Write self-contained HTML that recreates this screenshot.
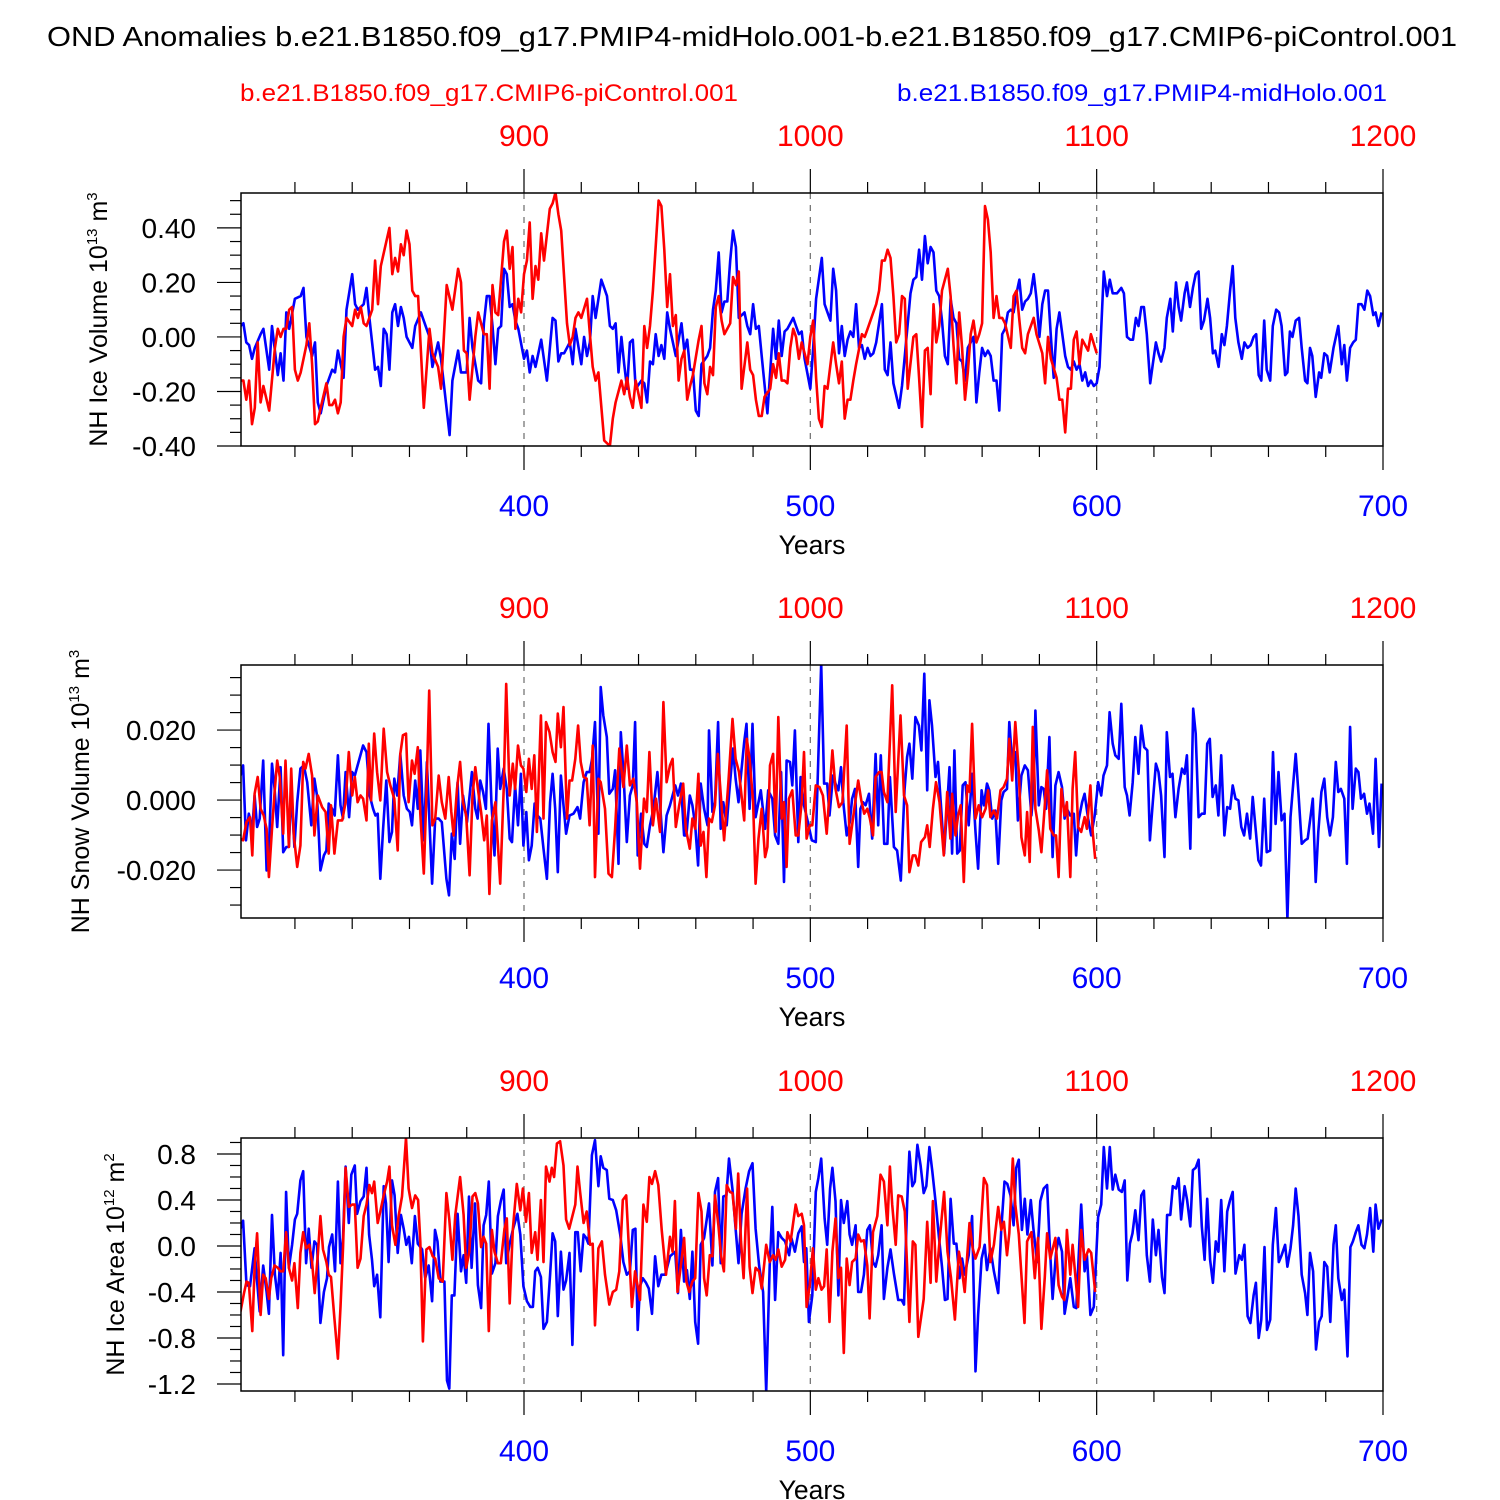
<!DOCTYPE html>
<html><head><meta charset="utf-8"><style>
html,body{margin:0;padding:0;background:#fff}
svg{display:block;font-family:"Liberation Sans",Arial,sans-serif}
</style></head><body>
<svg id="chart" width="1500" height="1500" viewBox="0 0 1500 1500" xmlns="http://www.w3.org/2000/svg">
<rect width="1500" height="1500" fill="#fff"/>
<text x="47" y="46" font-size="28" textLength="1410" lengthAdjust="spacingAndGlyphs">OND Anomalies b.e21.B1850.f09_g17.PMIP4-midHolo.001-b.e21.B1850.f09_g17.CMIP6-piControl.001</text>
<text x="240" y="101" font-size="24" fill="#ff0000" textLength="498" lengthAdjust="spacingAndGlyphs">b.e21.B1850.f09_g17.CMIP6-piControl.001</text>
<text x="897" y="101" font-size="24" fill="#0000ff" textLength="490" lengthAdjust="spacingAndGlyphs">b.e21.B1850.f09_g17.PMIP4-midHolo.001</text>
</svg>
<script>
// ---------- Panel 1: NH Ice Volume ----------
const iceVolBlueYears=[301,302,303,304,305,306,308,309,311,312,314,315,316,317,318,320,322,323,324,326,327,328,329,331,333,334,335,337,338,340,341,342,344,345,346,348,349,350,351,352,353,354,355,356,357,358,359,361,362,364,366,367,368,370,371,374,375,377,378,380,381,382,384,385,386,387,388,389,390,391,392,393,394,395,396,397,398,400,401,402,403,404,406,408,410,411,412,413,414,416,417,418,420,421,422,423,424,425,427,428,429,430,431,432,433,434,435,436,437,438,439,441,442,443,444,445,446,447,448,449,450,451,453,455,456,457,458,459,460,461,462,464,465,466,467,468,469,470,471,472,473,474,475,477,478,479,480,481,482,483,485,487,488,489,490,491,492,494,495,496,497,498,500,501,502,504,505,506,507,508,509,510,511,512,513,514,515,516,517,518,519,520,521,522,523,525,526,527,528,529,531,532,533,535,536,537,538,539,540,541,542,543,544,545,546,547,548,549,550,551,552,553,554,555,557,558,559,560,561,562,563,564,565,566,567,568,569,570,571,572,573,574,575,576,577,578,579,580,581,582,583,584,585,586,587,588,589,590,591,592,593,594,595,596,597,598,599,600,601,602.5,603.6,604.6,605.6,607.1,608.6,609.5,610.6,611.7,612.7,613.7,614.6,615.6,616.5,617.5,618.7,619.6,620.7,621.6,622.5,623.7,624.5,625.7,626.6,627.7,628.6,629.5,630.7,631.5,632.6,633.6,634.6,635.6,636.5,637.5,638.7,639.6,640.6,641.4,642.6,643.7,644.6,645.5,646.6,647.5,648.4,649.5,650.7,651.6,652.7,653.8,654.8,655.7,656.6,657.5,658.5,659.4,660.6,661.5,662.7,663.7,664.6,665.8,666.6,667.5,668.4,669.5,670.7,671.6,672.8,673.6,674.5,675.3,676.5,677.7,678.4,679.5,680.5,681.4,682.7,684.4,685.6,686.5,687.4,688.5,689.6,690.5,691.4,692.5,693.5,694.5,695.5,696.6,697.4,698.4,699.5];
const iceVolBlueVals=[0.04,0.05,-0.02,-0.03,-0.08,-0.04,0.01,0.03,-0.12,0.04,-0.14,-0.06,-0.16,0.09,0.03,0.14,0.15,0.18,0.0,-0.07,-0.02,-0.24,-0.28,-0.18,-0.12,-0.13,-0.05,-0.15,0.10,0.23,0.12,0.10,0.12,0.18,0.07,-0.12,-0.11,-0.18,0.03,0.01,-0.12,0.09,0.12,0.04,0.11,0.07,0.0,-0.04,0.04,0.09,0.03,0.0,-0.11,-0.02,-0.08,-0.36,-0.16,-0.05,-0.13,-0.13,0.07,-0.04,-0.16,-0.17,0.05,0.15,0.15,0.04,-0.10,0.03,0.04,0.25,0.23,0.11,0.12,0.06,0.03,-0.08,-0.05,-0.13,-0.07,-0.11,-0.01,-0.16,0.07,0.06,-0.09,-0.06,-0.06,-0.02,-0.10,0.03,-0.10,0.0,-0.07,-0.02,0.15,0.07,0.21,0.18,0.15,0.04,0.03,0.05,-0.13,0.0,-0.10,-0.19,-0.02,-0.01,-0.19,-0.16,-0.17,-0.24,-0.09,-0.10,0.01,-0.07,-0.03,-0.08,0.09,0.03,-0.07,0.05,-0.05,-0.01,-0.12,-0.12,-0.27,-0.29,-0.10,-0.07,-0.04,0.10,0.17,0.31,0.09,0.13,0.13,0.28,0.39,0.33,0.07,0.09,0.04,0.01,0.12,0.03,0.04,-0.07,-0.28,0.03,-0.08,0.06,-0.07,0.02,0.03,0.07,0.04,0.01,0.02,-0.08,-0.19,-0.04,0.14,0.29,0.12,0.09,0.06,0.25,0.17,-0.06,0.04,-0.07,-0.01,0.02,0.0,0.12,-0.04,-0.03,-0.08,-0.04,-0.07,-0.06,-0.02,0.12,-0.12,-0.14,-0.02,-0.17,-0.26,-0.18,-0.07,0.16,0.21,0.22,0.32,0.21,0.37,0.27,0.33,0.31,0.17,0.15,0.06,-0.07,-0.10,0.14,0.07,0.05,-0.08,-0.09,-0.16,-0.04,0.0,-0.24,-0.13,-0.04,-0.07,-0.05,-0.07,-0.16,-0.16,-0.27,0.01,0.03,0.09,0.10,0.09,0.16,0.21,0.10,0.13,0.14,0.16,0.23,0.14,0.0,0.12,0.17,0.17,0.0,-0.15,0.03,0.09,0.01,-0.07,-0.11,-0.12,-0.09,-0.12,-0.10,-0.16,-0.13,-0.18,-0.16,-0.18,-0.17,-0.11,0.24,0.15,0.21,0.16,0.16,0.18,0.16,0.0,-0.01,-0.01,0.07,0.04,0.11,0.11,0.01,-0.17,-0.10,-0.02,-0.06,-0.09,-0.04,0.07,0.14,0.02,0.20,0.11,0.06,0.16,0.20,0.11,0.18,0.23,0.24,0.03,0.06,0.14,0.07,-0.06,-0.05,-0.11,0.01,-0.03,0.04,0.17,0.26,0.07,-0.02,-0.08,-0.02,-0.04,-0.03,0.0,0.01,-0.14,-0.16,0.06,-0.12,-0.16,0.04,0.10,0.09,0.04,-0.14,-0.13,0.02,0.0,0.06,0.07,-0.04,-0.16,-0.17,-0.04,-0.07,-0.22,-0.13,-0.15,-0.06,-0.07,-0.13,-0.04,0.04,-0.10,-0.03,-0.16,-0.04,-0.02,-0.01,0.12,0.12,0.10,0.17,0.15,0.08,0.09,0.04,0.09];
const iceVolRedYears=[801,802,803,804,805,806,807,808,809,811,813,814,815,816,817,818,819,820,821,822,824,825,826,827,828,829,831,832,833,834,835,836,837,838,840,841,842,843,844,845,847,848,849,850,853,854,855,856,857,858,859,860,861,862,863,865,867,868,870,871,873,875,877,878,879,880,881,883,884,886,887,888,889,890,891,893,894,895,896,897,898,899,900,901,902,903,904,905,906,907,909,910,911,912,913,915,916,917,918,919,920,922,923,924,925,926,928,930,931,932,934,935,936,937,938,939,941,942,943,944,945,947,948,949,950,951,952,953,954,955,956,957,958,959,961,962,963,964,965,966,967,968,969,970,972,973,974,975,976,978,979,980,981,982,983,984,986,987,988,989,990,991,992,993,994,995,996,997,999,1000,1001,1002,1003,1004,1005,1006,1008,1009,1010,1011,1012,1013,1014,1015,1016,1018,1019,1020,1022,1023,1024,1025,1026,1027,1028,1029,1030,1031,1032,1033,1034,1036,1037,1038,1039,1040,1041,1042,1043,1044,1045,1046,1048,1049,1050,1051,1052,1053,1054,1055,1056,1057,1058,1059,1060,1061,1062,1063,1064,1065,1066,1067,1068,1070,1071,1072,1073,1074,1075,1076,1078,1079,1081,1082,1083,1084,1086,1087,1088,1089,1090,1091,1092,1093,1094,1095,1097,1098,1100];
const iceVolRedVals=[-0.16,-0.16,-0.23,-0.16,-0.32,-0.26,-0.02,-0.24,-0.18,-0.27,-0.04,0.03,0.0,0.03,0.03,0.10,0.11,-0.12,-0.16,-0.13,-0.03,0.05,-0.10,-0.32,-0.31,-0.26,-0.17,-0.25,-0.25,-0.23,-0.28,-0.24,0.0,0.07,0.04,0.10,0.07,0.11,0.05,0.04,0.10,0.28,0.12,0.26,0.40,0.23,0.29,0.24,0.34,0.30,0.39,0.34,0.17,0.15,0.15,-0.26,0.03,-0.06,-0.11,-0.19,0.19,0.10,0.25,0.20,-0.05,-0.06,-0.23,0.0,0.09,0.01,0.01,-0.19,0.19,0.09,0.08,0.35,0.39,0.25,0.33,0.03,0.14,0.09,0.23,0.28,0.42,0.14,0.26,0.21,0.38,0.28,0.47,0.49,0.53,0.45,0.39,0.05,-0.03,0.0,0.07,0.09,0.07,0.14,0.01,-0.11,-0.16,-0.13,-0.38,-0.40,-0.30,-0.24,-0.16,-0.21,-0.15,-0.22,-0.26,-0.16,-0.26,0.04,-0.04,0.04,0.17,0.50,0.48,0.32,0.11,0.23,0.04,0.08,-0.16,-0.08,-0.05,-0.23,-0.18,-0.14,-0.01,0.04,-0.17,-0.21,-0.11,-0.14,0.11,0.15,0.06,0.01,0.05,0.22,0.19,0.24,-0.19,-0.02,-0.12,-0.14,-0.23,-0.29,-0.29,-0.22,-0.19,-0.10,-0.15,-0.06,-0.16,-0.16,-0.17,-0.04,0.03,0.0,-0.08,-0.02,-0.10,0.0,0.06,-0.15,-0.30,-0.33,-0.18,-0.19,-0.02,-0.10,-0.17,-0.09,-0.30,-0.23,-0.23,-0.16,-0.10,0.01,0.0,0.03,0.09,0.12,0.17,0.28,0.28,0.32,0.29,0.15,-0.02,0.01,0.15,0.14,-0.19,0.0,0.01,-0.15,-0.33,-0.05,-0.04,-0.21,0.12,-0.02,0.04,0.17,0.25,0.15,-0.03,-0.17,0.09,-0.04,-0.23,-0.13,0.01,0.06,-0.02,0.01,0.05,0.48,0.43,0.31,0.07,0.15,0.07,0.07,0.05,-0.04,0.15,0.17,0.06,-0.04,-0.06,0.01,0.07,0.01,-0.06,-0.17,0.0,-0.08,-0.15,-0.23,-0.23,-0.35,-0.19,-0.19,-0.01,0.02,-0.10,-0.01,-0.05,0.01,-0.06];

// ---------- Panel 2: NH Snow Volume ----------
const snowBlueYears=[301.0,301.9,302.9,303.9,305.1,305.9,306.8,307.7,308.9,310.1,310.9,312.0,312.9,313.8,315.0,315.9,317.0,317.9,318.7,319.8,320.8,321.9,323.1,324.3,325.7,326.8,327.7,328.9,330.1,331.0,331.8,333.0,333.9,335.0,335.9,336.8,337.7,338.9,340.0,340.9,341.9,343.8,345.0,346.1,347.3,348.1,348.9,349.8,350.8,351.9,353.0,353.9,354.7,355.7,356.8,358.0,359.1,360.1,360.9,362.0,362.9,363.8,365.0,366.1,367.9,369.0,370.2,371.3,372.9,373.8,374.8,375.8,376.8,377.7,378.7,380.1,381.8,383.0,383.8,384.7,385.7,386.7,387.6,388.6,389.7,390.8,391.7,392.9,394.0,395.0,395.8,396.9,397.9,398.9,399.8,400.8,401.7,402.7,403.7,404.7,405.7,406.8,408.0,409.1,410.0,410.9,411.8,412.9,413.8,414.7,415.9,417.3,418.7,419.6,420.8,421.9,422.9,423.8,424.8,426.0,426.8,427.7,428.9,429.8,431.0,431.8,433.0,433.8,434.7,435.9,437.0,438.0,438.8,439.7,440.9,442.0,442.9,444.0,445.2,446.6,447.7,448.7,449.8,451.0,452.8,453.8,454.8,455.9,456.7,457.9,458.8,459.8,460.8,461.7,462.9,464.1,464.6,465.8,466.7,467.8,468.7,469.6,470.8,471.6,473.0,473.9,474.9,475.7,476.9,477.7,478.8,479.8,480.9,482.7,484.2,485.3,486.7,487.7,488.8,489.8,490.8,491.7,492.9,493.7,494.6,495.8,496.6,497.8,499.0,500.5,501.9,502.8,503.8,504.8,505.9,506.7,507.9,508.8,509.8,510.7,511.5,512.7,513.8,514.6,515.6,516.7,517.5,518.4,519.3,520.5,521.6,522.8,523.7,524.6,525.8,526.9,527.8,529.2,530.3,531.6,532.9,533.8,534.6,535.6,536.7,537.9,538.8,539.8,540.8,541.6,542.5,543.7,544.6,545.7,546.7,547.8,548.6,549.5,550.3,551.3,552.2,553.2,554.2,555.3,556.5,557.7,558.6,559.8,560.6,561.7,562.5,563.5,564.6,565.6,566.7,567.5,568.7,569.5,570.5,571.6,572.5,573.7,574.9,576.0,577.2,578.0,578.6,579.8,580.7,581.5,582.3,583.5,584.6,585.6,586.7,587.9,588.8,589.6,590.8,592.0,592.8,593.7,594.9,595.8,597.0,598.1,599.3,600.5,601.6,602.4,603.6,604.5,605.6,606.5,607.7,608.6,609.8,610.6,611.5,612.6,613.5,614.6,615.6,616.6,617.7,618.6,619.6,620.7,621.6,622.5,623.7,624.5,625.6,626.5,627.5,628.6,629.8,630.7,631.5,632.7,633.7,634.6,635.6,636.7,637.7,638.6,639.5,640.5,641.6,642.5,643.5,644.6,645.6,646.6,647.5,648.5,649.5,650.5,651.5,652.5,653.6,654.5,655.6,656.5,657.4,658.5,659.4,660.6,661.6,662.5,663.5,664.6,665.6,666.6,667.7,668.6,669.5,670.5,671.6,672.8,673.7,674.6,675.5,676.5,677.4,678.5,679.5,680.5,681.5,682.5,683.5,684.4,685.3,686.5,687.4,688.5,689.4,690.5,691.4,692.3,693.4,694.4,695.3,696.5,697.4,698.6,699.5];
const snowBlueVals=[0.0070,0.0099,-0.0115,-0.0039,-0.0082,0.0013,-0.0077,-0.0053,0.0113,-0.0201,-0.0139,0.0104,0.0032,-0.0077,0.0094,-0.0149,-0.0134,-0.0134,0.0032,-0.0134,-0.0006,0.0090,0.0099,0.0051,-0.0072,0.0061,0.0013,-0.0201,-0.0158,-0.0144,-0.0010,-0.0025,-0.0044,0.0128,-0.0015,-0.0053,0.0080,-0.0049,0.0080,0.0070,0.0099,0.0156,0.0137,0.0013,-0.0025,-0.0044,-0.0039,-0.0225,-0.0082,0.0056,-0.0120,-0.0091,0.0061,0.0013,0.0132,0.0013,-0.0025,-0.0034,-0.0072,0.0056,-0.0025,0.0142,-0.0115,0.0109,-0.0239,-0.0053,-0.0053,-0.0063,-0.0225,-0.0272,-0.0096,-0.0168,0.0051,-0.0125,0.0013,-0.0063,0.0080,-0.0025,-0.0053,0.0056,0.0023,-0.0025,0.0218,-0.0006,-0.0158,0.0147,0.0032,0.0090,0.0032,-0.0110,-0.0120,0.0042,-0.0072,0.0075,-0.0130,-0.0034,-0.0172,-0.0130,-0.0010,-0.0044,-0.0053,-0.0139,-0.0225,-0.0006,0.0075,-0.0025,-0.0206,0.0070,-0.0015,-0.0096,-0.0044,-0.0039,-0.0020,-0.0053,0.0051,0.0080,0.0080,0.0118,0.0223,-0.0096,0.0323,0.0242,0.0180,0.0018,0.0032,0.0085,-0.0182,0.0194,0.0080,-0.0120,0.0013,0.0042,0.0223,-0.0158,-0.0039,-0.0125,-0.0134,-0.0072,-0.0025,0.0080,-0.0034,-0.0149,-0.0044,-0.0015,0.0042,0.0013,0.0047,-0.0101,-0.0101,0.0013,-0.0015,-0.0072,-0.0187,0.0047,-0.0025,-0.0072,0.0199,-0.0034,-0.0006,0.0223,-0.0082,-0.0006,-0.0072,0.0013,0.0147,0.0061,-0.0006,0.0066,0.0166,0.0218,-0.0025,0.0218,-0.0049,0.0028,-0.0082,0.0028,0.0004,-0.0101,-0.0125,0.0080,-0.0234,0.0113,0.0109,0.0042,0.0199,-0.0120,0.0066,-0.0015,-0.0058,-0.0115,-0.0120,0.0128,0.0390,0.0047,0.0047,-0.0044,0.0070,0.0047,0.0028,0.0094,-0.0006,-0.0101,-0.0063,0.0004,0.0032,-0.0191,-0.0025,-0.0006,-0.0015,0.0018,-0.0110,0.0132,-0.0072,0.0128,-0.0125,-0.0125,0.0066,-0.0134,-0.0144,-0.0230,0.0028,0.0123,0.0161,0.0061,0.0237,0.0213,0.0142,0.0361,0.0028,0.0285,0.0213,0.0066,0.0109,-0.0025,-0.0153,-0.0015,0.0094,-0.0153,0.0142,-0.0153,-0.0144,0.0042,0.0051,-0.0072,0.0075,-0.0091,-0.0196,0.0028,-0.0015,0.0047,0.0028,-0.0053,-0.0030,-0.0182,-0.0001,0.0023,0.0032,0.0223,0.0109,0.0137,-0.0058,0.0070,0.0099,0.0085,-0.0044,0.0032,0.0256,-0.0015,0.0037,0.0032,-0.0025,0.0180,-0.0163,0.0042,0.0080,0.0037,-0.0053,-0.0025,-0.0044,-0.0039,-0.0158,-0.0058,-0.0006,0.0018,-0.0053,-0.0101,-0.0044,0.0051,0.0013,0.0070,0.0099,0.0251,0.0161,0.0128,0.0118,0.0275,0.0037,0.0013,-0.0044,0.0051,0.0180,0.0075,0.0213,0.0151,0.0142,-0.0115,-0.0006,0.0104,0.0080,0.0013,-0.0163,0.0194,0.0066,0.0075,-0.0049,0.0032,0.0090,0.0075,0.0128,-0.0139,0.0261,0.0190,-0.0049,-0.0039,-0.0039,0.0161,0.0175,0.0009,0.0042,-0.0044,0.0128,-0.0101,-0.0020,-0.0025,0.0042,0.0004,-0.0001,-0.0077,-0.0101,-0.0039,-0.0110,0.0009,-0.0091,-0.0172,-0.0187,0.0004,-0.0149,-0.0144,0.0137,-0.0068,0.0080,-0.0058,-0.0039,-0.0339,-0.0049,0.0042,0.0132,0.0018,-0.0125,-0.0115,-0.0110,-0.0053,0.0004,-0.0234,-0.0091,0.0023,0.0061,-0.0049,-0.0101,-0.0049,0.0109,0.0023,0.0032,0.0004,-0.0182,0.0209,-0.0025,0.0090,0.0080,0.0004,0.0018,-0.0039,-0.0010,-0.0096,0.0118,-0.0134,0.0047];
const snowRedYears=[801.0,801.9,803.1,804.3,805.1,805.9,807.0,808.0,809.1,810.1,810.9,812.0,812.9,813.8,814.7,815.9,816.7,817.9,818.7,819.6,820.8,821.9,822.9,823.7,824.8,826.0,826.8,828.0,829.5,830.7,831.8,832.6,833.8,835.0,836.5,837.7,838.8,840.0,840.9,841.9,842.9,843.8,845.0,845.8,846.6,847.7,848.7,849.8,851.0,852.2,853.3,854.7,855.9,856.8,857.7,858.8,859.7,860.9,861.8,862.9,863.8,865.0,865.9,866.9,868.0,869.0,870.2,871.3,872.5,873.7,874.6,875.4,876.6,877.7,878.7,879.8,881.0,882.0,883.0,883.9,885.0,886.1,887.0,887.9,888.8,890.0,891.7,892.9,893.8,895.0,896.1,896.9,897.9,898.9,899.8,900.8,901.7,902.7,903.6,904.5,905.9,906.8,907.7,908.9,910.0,911.0,911.8,912.9,913.8,915.0,915.9,916.8,917.9,918.9,919.8,920.8,921.9,922.9,924.0,924.8,926.0,926.8,928.3,929.5,930.7,931.8,933.3,934.7,935.9,937.0,938.2,939.4,940.5,941.9,942.9,943.8,945.0,946.1,947.5,948.7,949.8,951.0,951.9,953.0,954.2,955.6,956.5,957.9,958.8,959.8,960.9,961.7,962.7,963.7,964.6,965.6,966.7,967.7,968.7,969.9,971.4,972.8,973.9,975.1,976.9,977.8,978.8,980.0,980.9,981.9,983.0,984.2,985.0,985.9,987.0,987.9,988.8,990.0,990.8,991.7,992.5,993.7,994.9,995.8,997.0,997.8,998.7,999.8,1000.7,1001.9,1003.2,1004.4,1005.7,1007.7,1008.8,1010.0,1011.2,1012.7,1013.7,1014.9,1016.7,1017.8,1018.8,1019.9,1020.8,1021.9,1022.8,1024.0,1024.9,1025.7,1026.9,1028.6,1029.8,1031.5,1032.7,1033.8,1034.6,1035.8,1036.7,1037.7,1038.7,1040.0,1040.8,1041.7,1042.8,1043.9,1045.1,1046.6,1047.8,1048.9,1049.5,1050.7,1051.6,1052.5,1053.6,1054.8,1055.6,1056.5,1057.7,1058.8,1060.0,1061.2,1062.1,1062.9,1064.1,1065.2,1066.4,1067.5,1068.7,1069.5,1070.5,1071.6,1072.8,1073.7,1074.9,1075.7,1076.6,1077.7,1078.6,1079.8,1080.7,1081.9,1082.7,1083.8,1085.0,1085.8,1086.7,1087.7,1088.8,1089.6,1090.8,1091.6,1092.5,1093.5,1094.6,1095.8,1096.6,1097.8,1098.6,1099.5];
const snowRedVals=[-0.0110,-0.0115,-0.0063,-0.0049,-0.0158,0.0018,0.0066,-0.0025,-0.0044,-0.0082,-0.0220,-0.0082,0.0023,0.0113,0.0066,-0.0096,0.0113,-0.0134,0.0090,-0.0101,-0.0191,-0.0130,0.0109,0.0090,0.0132,0.0070,-0.0101,0.0013,-0.0020,-0.0034,-0.0153,-0.0015,-0.0153,-0.0058,-0.0058,-0.0006,0.0137,0.0013,0.0066,-0.0006,0.0013,0.0004,-0.0058,0.0161,-0.0001,0.0190,0.0080,-0.0001,0.0204,0.0080,0.0042,0.0004,-0.0144,0.0132,0.0185,0.0190,-0.0006,0.0113,0.0075,0.0151,-0.0039,-0.0210,0.0013,0.0313,-0.0072,-0.0053,0.0070,-0.0006,-0.0053,0.0066,-0.0034,-0.0101,0.0032,0.0109,-0.0006,-0.0044,-0.0215,0.0013,0.0094,0.0032,-0.0034,-0.0115,-0.0044,-0.0268,-0.0058,-0.0006,-0.0239,0.0032,0.0332,0.0013,0.0104,0.0032,0.0156,0.0099,0.0090,0.0023,0.0118,0.0032,0.0128,-0.0091,0.0242,-0.0053,0.0223,0.0194,0.0137,0.0109,0.0247,0.0151,0.0266,-0.0053,0.0056,0.0056,0.0118,0.0213,0.0109,0.0066,0.0061,-0.0072,0.0156,-0.0220,0.0061,0.0051,-0.0025,-0.0210,-0.0220,-0.0082,0.0147,0.0037,0.0156,0.0042,0.0061,-0.0006,-0.0196,0.0004,-0.0034,0.0137,-0.0072,0.0004,-0.0091,0.0280,0.0051,0.0099,0.0118,-0.0077,-0.0015,0.0047,-0.0082,-0.0139,-0.0053,-0.0082,0.0075,-0.0130,-0.0091,-0.0220,-0.0053,-0.0063,-0.0015,0.0132,0.0018,-0.0115,0.0051,0.0232,0.0118,0.0080,-0.0058,0.0175,0.0118,-0.0006,-0.0239,-0.0110,-0.0025,-0.0163,-0.0134,0.0099,0.0132,-0.0091,0.0237,-0.0053,-0.0006,-0.0191,0.0004,0.0028,-0.0101,-0.0101,-0.0006,0.0137,-0.0110,-0.0072,-0.0072,0.0042,0.0037,0.0013,-0.0096,0.0142,0.0032,-0.0020,-0.0006,0.0213,-0.0125,-0.0053,0.0056,-0.0001,-0.0039,-0.0025,-0.0053,-0.0101,0.0066,0.0080,0.0080,0.0023,-0.0006,0.0328,-0.0034,0.0242,0.0013,-0.0015,-0.0206,-0.0158,-0.0158,-0.0187,-0.0120,-0.0106,-0.0072,-0.0134,-0.0025,0.0051,-0.0006,-0.0158,0.0023,-0.0110,0.0018,-0.0101,-0.0044,-0.0015,-0.0234,0.0042,0.0023,0.0218,-0.0053,-0.0015,-0.0049,-0.0025,0.0028,-0.0049,-0.0030,-0.0053,0.0028,0.0037,0.0061,0.0175,0.0056,0.0223,0.0080,-0.0106,-0.0158,-0.0034,-0.0177,0.0209,-0.0025,-0.0087,-0.0149,-0.0015,0.0085,-0.0082,-0.0101,-0.0101,-0.0220,0.0032,-0.0044,-0.0006,-0.0220,0.0032,0.0137,-0.0077,-0.0091,-0.0049,-0.0082,0.0042,-0.0091,-0.0168];

// ---------- Panel 3: NH Ice Area ----------
const areaBlueYears=[301.0,301.9,303.1,304.3,305.9,306.8,307.7,308.9,310.1,310.9,312.0,313.0,314.0,315.0,315.9,316.9,317.9,319.0,320.0,320.8,321.9,322.9,323.9,324.8,325.8,326.8,327.7,328.9,330.1,331.2,331.9,333.0,334.0,335.0,335.9,336.8,337.7,338.8,339.7,340.9,341.7,342.9,344.0,345.0,345.9,346.9,347.7,348.7,349.8,351.0,351.8,352.7,353.9,354.8,355.9,357.0,358.0,358.9,359.8,360.8,361.9,362.9,364.4,365.5,366.7,367.9,368.9,369.8,370.8,372.2,373.1,373.9,374.8,375.7,376.8,378.0,378.9,379.8,380.8,381.7,382.9,383.9,385.0,385.9,386.8,387.7,388.8,390.0,390.9,391.9,392.9,393.8,395.0,396.1,397.7,398.7,399.8,401.0,402.2,403.1,403.9,404.8,405.9,406.8,408.0,409.1,410.0,410.9,411.8,412.9,413.8,414.7,415.9,416.9,417.9,418.8,419.8,420.8,421.7,422.5,423.7,424.8,426.0,426.8,427.7,428.9,429.8,431.0,432.2,433.6,434.7,435.9,437.0,438.0,438.9,439.7,440.5,441.5,442.6,443.6,444.7,445.8,446.9,448.0,449.3,451.0,452.8,453.8,454.8,455.9,456.9,457.9,458.8,459.8,460.8,461.7,462.9,464.6,465.8,466.7,467.8,468.7,469.6,470.7,471.6,472.8,473.9,474.9,476.0,477.4,478.6,479.8,480.9,482.1,483.5,484.6,485.8,486.7,487.7,488.8,490.0,491.2,492.6,493.4,494.6,495.8,497.0,497.8,498.6,499.5,500.7,501.9,502.8,503.8,505.0,505.9,506.9,507.7,508.8,509.8,510.7,511.7,512.9,513.7,514.6,515.8,516.7,517.7,518.7,519.9,520.8,521.9,522.8,523.7,524.9,525.7,526.9,528.0,529.2,530.7,531.9,532.7,533.8,534.6,535.6,536.5,537.4,538.5,539.6,540.5,541.6,542.6,543.7,544.9,546.0,547.0,547.9,549.0,550.1,551.0,552.1,553.0,553.9,555.3,556.5,557.7,558.6,559.8,560.9,561.7,562.9,564.1,565.6,566.7,567.8,568.8,569.9,571.0,571.9,572.8,573.9,574.9,575.8,577.0,577.9,579.2,580.3,581.5,582.7,583.5,584.6,585.8,586.7,587.9,588.8,590.0,590.8,592.0,592.9,593.7,594.6,595.8,596.6,597.8,599.0,600.5,601.6,602.5,603.6,604.6,605.6,606.5,607.7,608.8,609.8,610.7,611.6,612.5,613.5,614.6,615.6,616.5,617.5,618.6,619.6,620.7,621.6,622.8,623.7,624.6,625.7,626.6,627.7,628.6,629.5,630.7,631.6,632.7,633.6,634.6,635.6,636.7,637.7,638.6,639.6,640.6,641.6,642.5,643.5,644.6,645.6,646.6,647.5,648.5,649.8,650.7,651.6,652.7,653.7,654.8,655.6,656.6,657.5,658.6,659.5,660.6,661.5,662.6,663.6,664.6,665.8,666.6,667.7,668.6,669.5,670.5,671.6,672.8,673.6,674.5,675.6,676.6,677.7,678.6,679.5,680.5,681.6,682.7,683.5,684.4,685.6,686.5,687.6,688.6,689.5,690.5,691.4,692.5,693.5,694.4,695.5,696.6,697.4,698.4,699.5];
const areaBlueVals=[0.15,0.22,-0.34,-0.35,-0.02,-0.31,-0.57,-0.17,-0.40,-0.59,0.27,-0.25,-0.46,-0.06,-0.95,0.47,-0.19,0.01,0.23,0.28,0.57,0.65,-0.15,0.15,-0.19,0.04,0.01,-0.67,-0.40,-0.28,-0.01,0.10,-0.22,0.56,-0.15,0.07,0.69,0.20,0.62,0.70,0.28,0.39,0.43,0.68,0.10,-0.12,-0.35,-0.25,-0.62,0.52,0.37,-0.14,0.57,0.44,-0.06,0.27,0.15,0.01,0.08,-0.15,0.26,0.02,-0.03,-0.28,-0.17,-0.48,0.14,0.04,-0.31,-0.31,-1.17,-1.24,-0.43,-0.43,0.28,-0.22,-0.08,-0.32,0.43,-0.19,0.37,-0.34,-0.54,0.18,0.27,0.56,-0.24,-0.15,0.26,0.39,0.49,-0.15,0.02,0.14,0.28,0.10,-0.35,-0.48,-0.53,-0.53,-0.22,-0.19,-0.27,-0.72,-0.66,-0.25,0.11,0.04,-0.61,-0.05,-0.38,-0.30,-0.06,-0.86,0.12,0.12,-0.22,0.10,0.07,0.02,0.79,0.92,0.52,0.78,0.68,0.66,0.41,0.40,0.31,0.10,-0.14,-0.25,-0.22,0.14,0.15,-0.73,-0.35,-0.28,-0.32,-0.37,-0.59,-0.09,-0.35,-0.25,-0.25,-0.09,-0.05,-0.41,0.14,-0.31,-0.21,-0.46,-0.05,-0.66,-0.85,0.01,0.07,0.37,-0.17,0.47,0.59,-0.15,0.43,0.44,0.76,0.49,0.15,-0.15,0.28,0.50,0.65,0.72,0.15,-0.17,-0.40,-1.27,-0.17,0.34,-0.47,0.12,0.07,0.04,-0.08,0.07,-0.05,0.11,0.17,-0.14,-0.02,-0.66,-0.43,0.47,0.59,0.76,0.24,0.01,0.50,0.68,0.39,-0.43,0.40,0.20,0.39,0.10,0.01,0.18,-0.40,-0.40,-0.25,0.14,0.18,-0.14,-0.18,-0.08,0.18,-0.46,-0.19,-0.03,-0.24,-0.47,-0.47,-0.51,0.36,0.82,0.52,0.56,0.88,0.70,0.46,0.52,0.86,0.65,0.39,0.08,-0.18,-0.47,-0.46,0.41,0.02,0.02,-0.28,-0.11,-0.25,-0.08,0.26,-1.09,-0.60,-0.11,0.01,-0.21,-0.02,-0.22,-0.41,0.15,0.56,0.54,0.44,0.18,0.68,0.75,0.14,0.41,0.10,0.40,0.15,-0.14,0.39,0.50,0.53,0.07,-0.46,-0.06,0.07,-0.05,-0.59,-0.41,-0.28,-0.53,-0.54,-0.11,0.36,-0.22,-0.08,-0.60,-0.53,0.25,0.36,0.86,0.50,0.86,0.49,0.62,0.49,0.47,0.57,-0.30,0.02,0.11,0.31,0.05,0.44,0.48,-0.08,-0.31,0.23,-0.08,0.14,-0.27,-0.41,0.27,0.27,0.52,0.50,0.59,0.23,0.52,0.40,0.17,0.66,0.68,0.75,0.17,-0.12,0.41,-0.12,-0.32,0.04,-0.05,0.40,-0.22,0.30,0.40,0.47,-0.24,-0.08,-0.12,0.01,-0.61,-0.67,-0.43,-0.32,-0.80,-0.64,-0.01,-0.73,-0.64,0.01,0.33,-0.14,-0.08,0.01,-0.18,-0.02,0.18,0.50,0.26,-0.25,-0.41,-0.60,-0.06,-0.22,-0.90,-0.66,-0.61,-0.14,-0.18,-0.66,0.01,0.18,-0.28,-0.47,-0.38,-0.96,-0.01,0.04,0.12,0.18,0.01,-0.02,0.10,0.33,-0.05,0.36,0.15,0.23];
const areaRedYears=[801.0,802.2,803.1,803.9,805.1,805.9,806.8,808.0,808.9,809.8,810.9,811.7,812.9,814.0,815.0,815.9,816.9,817.9,819.0,819.8,821.0,821.9,822.9,823.9,825.0,826.0,826.9,828.0,828.9,829.8,831.0,831.8,832.6,833.8,835.0,835.9,836.8,837.7,838.8,840.0,840.9,841.9,842.9,844.0,845.0,846.0,846.9,847.7,848.9,849.8,851.0,852.2,853.0,853.9,855.1,856.2,857.4,858.8,859.7,860.9,862.0,863.0,863.8,864.7,865.9,867.0,868.1,869.0,870.2,871.6,872.9,873.9,875.0,876.0,877.7,878.9,879.8,880.9,882.0,883.0,883.9,885.0,885.9,886.8,887.7,888.8,889.7,890.9,891.9,893.2,894.0,895.0,896.1,897.5,898.7,899.6,900.7,901.7,902.7,903.9,904.7,905.9,906.8,907.7,908.9,909.7,910.5,911.5,912.6,913.8,914.7,915.8,916.7,917.9,918.7,919.6,920.8,921.9,923.1,924.0,924.8,926.0,927.2,928.3,929.8,931.0,932.2,933.3,934.5,935.7,936.5,937.7,938.8,940.5,941.7,942.9,943.8,944.7,945.8,946.9,948.1,949.6,951.0,951.9,952.7,953.6,954.8,955.9,956.7,957.7,958.8,959.8,960.9,962.0,962.9,963.8,964.9,965.8,966.7,967.9,968.8,969.8,970.8,971.9,972.8,974.0,974.8,975.8,976.7,977.9,978.8,979.8,980.9,982.1,983.0,984.6,985.8,987.0,987.9,988.8,990.0,991.2,992.0,993.1,994.9,995.8,997.0,997.8,998.7,999.8,1000.9,1001.9,1002.8,1003.9,1004.8,1005.7,1006.7,1007.7,1008.8,1009.8,1010.7,1011.7,1012.7,1013.7,1014.6,1015.8,1016.7,1017.7,1018.7,1019.9,1020.7,1021.9,1023.4,1024.5,1025.7,1026.9,1027.8,1028.6,1029.8,1030.7,1031.9,1033.0,1034.6,1035.8,1036.7,1037.7,1039.6,1040.8,1042.0,1042.8,1044.0,1044.9,1046.7,1047.9,1049.1,1050.5,1051.9,1052.8,1053.9,1055.6,1056.7,1057.7,1059.1,1060.6,1061.7,1062.9,1064.1,1065.6,1066.7,1067.6,1068.7,1069.5,1070.7,1071.6,1072.8,1074.8,1075.7,1077.2,1078.4,1079.5,1080.7,1081.9,1082.7,1083.8,1085.6,1086.7,1087.9,1088.7,1089.6,1090.8,1091.6,1093.5,1094.6,1095.8,1097.2,1098.1,1099.5];
const areaRedVals=[-0.57,-0.41,-0.31,-0.32,-0.74,-0.19,0.11,-0.60,-0.25,-0.28,-0.46,-0.28,-0.17,-0.19,-0.22,-0.22,0.12,-0.19,-0.30,-0.15,-0.54,-0.06,0.12,-0.02,0.01,-0.14,-0.41,-0.08,0.26,-0.03,-0.14,-0.25,-0.27,-0.63,-0.98,-0.53,-0.02,0.68,0.34,0.36,0.36,-0.19,-0.11,0.26,0.36,0.53,0.46,0.56,0.20,0.30,0.44,0.56,0.69,0.18,0.01,0.26,0.43,0.94,0.50,0.33,0.44,0.40,0.04,-0.83,-0.03,-0.01,-0.09,-0.11,-0.28,-0.31,0.46,0.23,-0.12,0.27,0.60,0.27,-0.19,-0.05,0.43,0.46,0.37,-0.01,0.08,0.02,-0.74,0.14,-0.05,-0.15,-0.15,0.15,0.24,-0.50,0.14,0.54,0.31,0.50,0.21,0.46,-0.06,0.12,-0.12,0.40,-0.14,0.69,0.56,0.68,0.60,0.89,0.91,0.70,0.23,0.15,0.24,0.36,0.69,0.47,0.20,0.30,0.01,0.02,-0.69,-0.02,0.04,-0.25,-0.51,-0.40,-0.38,-0.22,0.40,0.44,0.05,-0.53,-0.22,-0.47,0.36,0.21,0.60,0.54,0.65,0.53,0.14,-0.25,0.08,-0.05,0.39,-0.40,-0.17,0.07,-0.31,-0.40,-0.31,-0.28,0.46,0.30,-0.28,-0.43,-0.08,-0.09,0.44,0.18,-0.08,-0.22,0.53,0.47,0.46,0.15,0.63,0.04,-0.28,0.50,-0.18,-0.41,-0.19,-0.22,-0.37,0.01,-0.14,-0.08,-0.12,-0.03,-0.18,-0.12,0.12,0.04,0.36,0.26,0.28,0.18,-0.53,-0.34,-0.02,-0.38,-0.28,-0.38,-0.35,-0.03,-0.66,-0.05,0.24,-0.28,-0.19,-0.93,-0.11,-0.34,-0.14,-0.11,0.10,0.04,0.05,-0.17,-0.63,0.12,0.26,0.62,0.56,0.18,0.69,0.36,0.01,0.44,0.43,0.30,-0.66,0.04,0.01,-0.79,-0.46,0.21,-0.32,0.39,-0.31,-0.02,0.47,-0.05,-0.27,-0.64,-0.05,-0.18,-0.40,0.20,-0.02,-0.11,-0.01,0.59,0.53,-0.14,0.01,0.34,0.14,0.21,-0.08,0.11,0.76,0.36,0.10,-0.67,0.04,0.12,-0.28,0.07,-0.72,-0.27,0.11,-0.11,0.07,-0.34,-0.44,-0.47,0.14,-0.25,0.01,-0.53,0.14,-0.12,-0.03,-0.06,-0.40];

// ---------- Axis config ----------
const blueTickLabels=[400,500,600,700];
const redTickLabels=[900,1000,1100,1200];
const panel1YTicks=[0.40,0.20,0.00,-0.20,-0.40];
const panel2YTicks=[0.020,0.000,-0.020];
const panel3YTicks=[0.8,0.4,0.0,-0.4,-0.8,-1.2];

const NS='http://www.w3.org/2000/svg';
const svg=document.getElementById('chart');
const X0=241,X1=1383;
const PX_PER_YR=(1383-524)/300;
function xBlue(yr){return 524+(yr-400)*PX_PER_YR;}
function xRed(yr){return 524+(yr-900)*PX_PER_YR;}
function mk(tag,attrs,parent){const e=document.createElementNS(NS,tag);for(const k in attrs)e.setAttribute(k,attrs[k]);(parent||svg).appendChild(e);return e;}

const panels=[
 {name:'ice-volume',top:193,bot:446,vmin:-0.40,vmax:0.528,yTicks:panel1YTicks,dec:2,minorStep:0.05,
  title:['NH Ice Volume 10','13',' m','3'],titleX:107,
  blueY:iceVolBlueYears,blueV:iceVolBlueVals,redY:iceVolRedYears,redV:iceVolRedVals},
 {name:'snow-volume',top:665,bot:918,vmin:-0.0337,vmax:0.0386,yTicks:panel2YTicks,dec:3,minorStep:0.005,
  title:['NH Snow Volume 10','13',' m','3'],titleX:89,
  blueY:snowBlueYears,blueV:snowBlueVals,redY:snowRedYears,redV:snowRedVals},
 {name:'ice-area',top:1138,bot:1391,vmin:-1.261,vmax:0.939,yTicks:panel3YTicks,dec:1,minorStep:0.1,
  title:['NH Ice Area 10','12',' m','2'],titleX:124,
  blueY:areaBlueYears,blueV:areaBlueVals,redY:areaRedYears,redV:areaRedVals}
];

panels.forEach((p,pi)=>{
 const g=mk('g',{});
 
 
 const yS=v=>p.bot-(v-p.vmin)/(p.vmax-p.vmin)*(p.bot-p.top);
 const cp=mk('clipPath',{id:'clip'+pi},g);
 mk('rect',{x:X0,y:p.top,width:X1-X0,height:p.bot-p.top},cp);
 [400,500,600].forEach(yr=>{
  const l=mk('line',{x1:xBlue(yr),x2:xBlue(yr),y1:p.top,y2:p.bot,stroke:'#777','stroke-width':1.3,'stroke-dasharray':'6,6'},g);
  
  
 });
 function line(ys,vs,xf,color,nm){
  let d='';
  for(let i=0;i<ys.length;i++){d+=(i?'L':'M')+xf(ys[i]).toFixed(1)+','+yS(vs[i]).toFixed(1);}
  const path=mk('path',{d:d,fill:'none',stroke:color,'stroke-width':2.6,'stroke-linejoin':'round','clip-path':'url(#clip'+pi+')'},g);
  
  
 }
 line(p.blueY,p.blueV,xBlue,'#0000ff',p.name+'-midholo-line');
 line(p.redY,p.redV,xRed,'#ff0000',p.name+'-picontrol-line');
 const fr=mk('rect',{x:X0,y:p.top,width:X1-X0,height:p.bot-p.top,fill:'none',stroke:'#000','stroke-width':1.5},g);
 
 
 for(let yr=320;yr<=700;yr+=20){
  const x=xBlue(yr);const major=(yr%100===0);
  const len=major?24:11;
  mk('line',{x1:x,x2:x,y1:p.bot,y2:p.bot+len,stroke:'#000','stroke-width':1.2},g);
  mk('line',{x1:x,x2:x,y1:p.top,y2:p.top-len,stroke:'#000','stroke-width':1.2},g);
 }
 blueTickLabels.forEach(v=>{
  const t=mk('text',{x:xBlue(v),y:p.bot+70,'font-size':30,'text-anchor':'middle',fill:'#0000ff'},g);
  t.textContent=v;
  
  
 });
 redTickLabels.forEach(v=>{
  const t=mk('text',{x:xRed(v),y:p.top-47,'font-size':30,'text-anchor':'middle',fill:'#ff0000'},g);
  t.textContent=v;
  
  
 });
 const xt=mk('text',{x:812,y:p.bot+108,'font-size':26.5,'text-anchor':'middle'},g);
 xt.textContent='Years';
 
 
 const n0=Math.ceil(p.vmin/p.minorStep-1e-6),n1=Math.floor(p.vmax/p.minorStep+1e-6);
 for(let k=n0;k<=n1;k++){
  const v=k*p.minorStep;const y=yS(v);
  const isMajor=p.yTicks.some(t=>Math.abs(t-v)<p.minorStep/10);
  const len=isMajor?24:11;
  mk('line',{x1:X0-len,x2:X0,y1:y,y2:y,stroke:'#000','stroke-width':1.2},g);
 }
 p.yTicks.forEach(v=>{
  const t=mk('text',{x:196,y:yS(v)+10,'font-size':28,'text-anchor':'end'},g);
  t.textContent=v.toFixed(p.dec);
  
  
 });
 const cy=(p.top+p.bot)/2;
 const yt=mk('text',{x:0,y:0,'font-size':25,'text-anchor':'middle',transform:'translate('+p.titleX+','+cy+') rotate(-90)'},g);
 
 
 const s1=mk('tspan',{},yt);s1.textContent=p.title[0];
 const s2=mk('tspan',{dy:-10,'font-size':15},yt);s2.textContent=p.title[1];
 const s3=mk('tspan',{dy:10},yt);s3.textContent=p.title[2];
 const s4=mk('tspan',{dy:-10,'font-size':15},yt);s4.textContent=p.title[3];
});
</script>
</body></html>
